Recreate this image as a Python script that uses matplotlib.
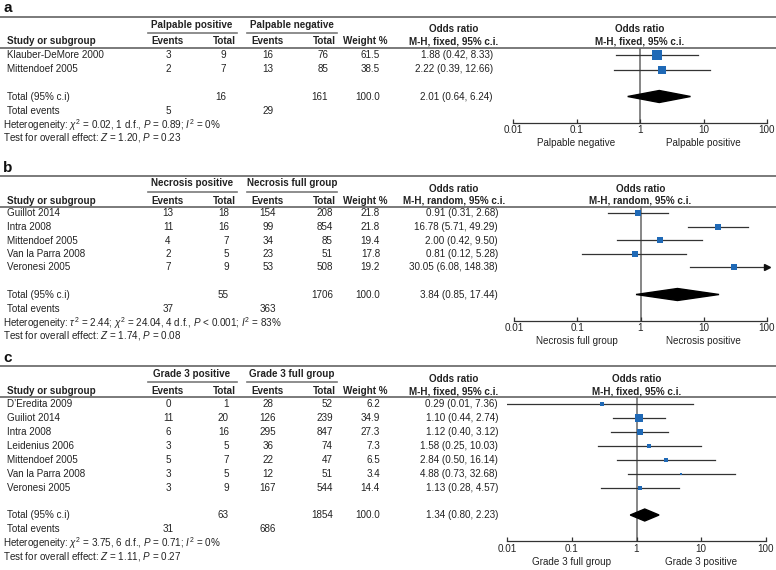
import numpy as np
import matplotlib
matplotlib.use('Agg')
import matplotlib.pyplot as plt

plt.rcParams['font.family'] = ['Liberation Sans', 'DejaVu Sans']
plt.rcParams['mathtext.fontset'] = 'custom'
plt.rcParams['mathtext.rm'] = 'Liberation Sans'
plt.rcParams['mathtext.it'] = 'Liberation Sans:italic'
plt.rcParams['mathtext.bf'] = 'Liberation Sans:bold'

# ---- data ----
a_studies = ['Klauber-DeMore 2000', 'Mittendoef 2005']
a_ev1 = [3, 2]
a_tot1 = [9, 7]
a_ev2 = [16, 13]
a_tot2 = [76, 85]
a_weight = [61.5, 38.5]
a_or = [1.88, 2.22]
a_lo = [0.42, 0.39]
a_hi = [8.33, 12.66]
a_total = [16, 161, 100.0, 2.01, 0.64, 6.24]
a_events = [5, 29]

b_studies = ['Guillot 2014', 'Intra 2008', 'Mittendoef 2005', 'Van la Parra 2008', 'Veronesi 2005']
b_ev1 = [13, 11, 4, 2, 7]
b_tot1 = [18, 16, 7, 5, 9]
b_ev2 = [154, 99, 34, 23, 53]
b_tot2 = [208, 854, 85, 51, 508]
b_weight = [21.8, 21.8, 19.4, 17.8, 19.2]
b_or = [0.91, 16.78, 2.00, 0.81, 30.05]
b_lo = [0.31, 5.71, 0.42, 0.12, 6.08]
b_hi = [2.68, 49.29, 9.50, 5.28, 148.38]
b_total = [55, 1706, 100.0, 3.84, 0.85, 17.44]
b_events = [37, 363]

c_studies = ["D\u2019Eredita 2009", 'Guiliot 2014', 'Intra 2008', 'Leidenius 2006',
             'Mittendoef 2005', 'Van la Parra 2008', 'Veronesi 2005']
c_ev1 = [0, 11, 6, 3, 5, 3, 3]
c_tot1 = [1, 20, 16, 5, 7, 5, 9]
c_ev2 = [28, 126, 295, 36, 22, 12, 167]
c_tot2 = [52, 239, 847, 74, 47, 51, 544]
c_weight = [6.2, 34.9, 27.3, 7.3, 6.5, 3.4, 14.4]
c_or = [0.29, 1.10, 1.12, 1.58, 2.84, 4.88, 1.13]
c_lo = [0.01, 0.44, 0.40, 0.25, 0.50, 0.73, 0.28]
c_hi = [7.36, 2.74, 3.12, 10.03, 16.14, 32.68, 4.57]
c_total = [63, 1854, 100.0, 1.34, 0.80, 2.23]
c_events = [31, 686]

tick_vals = [0.01, 0.1, 1, 10, 100]
tick_labels = ['0.01', '0.1', '1', '10', '100']

W, H = 776, 570
FS = 7.1
BLUE = '#1f69b6'
RULE = '#7a7a7a'
TXT = '#222222'

fig = plt.figure(figsize=(W / 100, H / 100), dpi=100)
main = fig.add_axes([0, 0, 1, 1])
main.set_xlim(0, W)
main.set_ylim(H, 0)
main.axis('off')


def panel(letter, top, groups, method, studies, ev1, tot1, ev2, tot2, weight,
          orv, lo, hi, total, events, het, test, sides, fx0, fx1, tot1_x, tot2_x, or_x, step):
    # layout in pixels relative to panel top rule
    main.text(3, top - 8, letter, fontsize=11, fontweight='bold', va='center', ha='left', color='#111')
    main.plot([0, W], [top, top], color=RULE, lw=1.4)
    gy = top + 8
    main.text(192, gy, groups[0], fontsize=FS, fontweight='bold', ha='center', va='center', color=TXT)
    main.text(292, gy, groups[1], fontsize=FS, fontweight='bold', ha='center', va='center', color=TXT)
    main.plot([148, 237], [top + 16, top + 16], color=RULE, lw=1.2)
    main.plot([247, 337], [top + 16, top + 16], color=RULE, lw=1.2)
    hy = top + 25
    main.text(7, hy, 'Study or subgroup', fontsize=FS, fontweight='bold', va='center', color=TXT)
    main.text(168, hy, 'Events', fontsize=FS, fontweight='bold', ha='center', va='center', color=TXT)
    main.text(236, hy, 'Total', fontsize=FS, fontweight='bold', ha='right', va='center', color=TXT)
    main.text(267, hy, 'Events', fontsize=FS, fontweight='bold', ha='center', va='center', color=TXT)
    main.text(336, hy, 'Total', fontsize=FS, fontweight='bold', ha='right', va='center', color=TXT)
    main.text(365, hy, 'Weight %', fontsize=FS, fontweight='bold', ha='center', va='center', color=TXT)
    for cx in [454, (fx0 + fx1) / 2]:
        main.text(cx, gy + 5, 'Odds ratio', fontsize=FS, fontweight='bold', ha='center', va='center', color=TXT)
        main.text(cx, hy, method, fontsize=FS, fontweight='bold', ha='center', va='center', color=TXT)
    line_y = top + 31
    main.plot([0, W], [line_y, line_y], color=RULE, lw=1.4)

    ys = [line_y + 7 + i * step for i in range(len(studies))]
    for i, y in enumerate(ys):
        main.text(7, y, studies[i], fontsize=FS, va='center', color=TXT)
        main.text(168, y, str(ev1[i]), fontsize=FS, ha='center', va='center', color=TXT)
        main.text(tot1_x, y, str(tot1[i]), fontsize=FS, ha='right', va='center', color=TXT)
        main.text(268, y, str(ev2[i]), fontsize=FS, ha='center', va='center', color=TXT)
        main.text(tot2_x, y, str(tot2[i]), fontsize=FS, ha='right', va='center', color=TXT)
        main.text(380, y, '%.1f' % weight[i], fontsize=FS, ha='right', va='center', color=TXT)
        main.text(or_x, y, '%.2f (%.2f, %.2f)' % (orv[i], lo[i], hi[i]), fontsize=FS,
                  ha='right', va='center', color=TXT)
    ty = ys[-1] + 27
    main.text(7, ty, 'Total (95% c.i)', fontsize=FS, va='center', color=TXT)
    main.text(tot1_x, ty, str(total[0]), fontsize=FS, ha='right', va='center', color=TXT)
    main.text(tot2_x, ty, str(total[1]), fontsize=FS, ha='right', va='center', color=TXT)
    main.text(380, ty, '%.1f' % total[2], fontsize=FS, ha='right', va='center', color=TXT)
    main.text(or_x, ty, '%.2f (%.2f, %.2f)' % (total[3], total[4], total[5]), fontsize=FS,
              ha='right', va='center', color=TXT)
    main.text(7, ty + 14.5, 'Total events', fontsize=FS, va='center', color=TXT)
    main.text(168, ty + 14.5, str(events[0]), fontsize=FS, ha='center', va='center', color=TXT)
    main.text(268, ty + 14.5, str(events[1]), fontsize=FS, ha='center', va='center', color=TXT)
    main.text(3, ty + 28.5, het, fontsize=FS, va='center', color=TXT)
    main.text(3, ty + 41.5, test, fontsize=FS, va='center', color=TXT)

    # forest axes, y in pixel units
    axis_y = ty + 26
    ax = fig.add_axes([fx0 / W, 1 - axis_y / H, (fx1 - fx0) / W, (axis_y - line_y) / H])
    ax.set_xscale('log')
    ax.set_xlim(0.01, 100)
    ax.set_ylim(axis_y, line_y)
    ax.patch.set_alpha(0)
    for s in ['top', 'left', 'right']:
        ax.spines[s].set_visible(False)
    ax.spines['bottom'].set_color('#333')
    ax.spines['bottom'].set_linewidth(0.9)
    ax.set_yticks([])
    ax.set_xticks(tick_vals)
    ax.set_xticklabels(tick_labels)
    ax.minorticks_off()
    ax.tick_params(axis='x', direction='in', length=3, width=0.9, color='#333',
                   labelsize=FS, labelcolor=TXT, pad=2)
    ax.axvline(1, color='#666', lw=1.1, zorder=1)
    for i, y in enumerate(ys):
        if hi[i] > 100:
            ax.plot([lo[i], 100], [y, y], color='#333', lw=0.9, zorder=2)
            ax.plot([100], [y], marker='>', color='#111', ms=5, zorder=3, clip_on=False)
        else:
            ax.plot([lo[i], hi[i]], [y, y], color='#333', lw=0.9, zorder=2)
        ax.plot([orv[i]], [y], marker='s', color=BLUE, ms=sides[i] * 0.72, mew=0, zorder=3)
    dx = [total[4], total[3], total[5], total[3]]
    dy = [ty, ty - 6, ty, ty + 6]
    ax.fill(dx, dy, color='black', zorder=3)
    ax.text(0.1, axis_y + 21, groups[3], fontsize=FS, ha='center', va='center', color=TXT, clip_on=False)
    ax.text(10, axis_y + 21, groups[2], fontsize=FS, ha='center', va='center', color=TXT, clip_on=False)
    return ax


def sizes(w):
    return [1.25 * np.sqrt(x) for x in w]


panel('a', 16.5, ['Palpable positive', 'Palpable negative', 'Palpable positive', 'Palpable negative'],
      'M-H, fixed, 95% c.i.', a_studies, a_ev1, a_tot1, a_ev2, a_tot2, a_weight, a_or, a_lo, a_hi,
      a_total, a_events,
      r'Heterogeneity: $\chi^2$ = 0.02, 1 d.f., $P$ = 0.89; $I^2$ = 0%',
      r'Test for overall effect: $Z$ = 1.20, $P$ = 0.23',
      sizes(a_weight), 513, 767, 226, 328, 493, 15)

panel('b', 175.5, ['Necrosis positive', 'Necrosis full group', 'Necrosis positive', 'Necrosis full group'],
      'M-H, random, 95% c.i.', b_studies, b_ev1, b_tot1, b_ev2, b_tot2, b_weight, b_or, b_lo, b_hi,
      b_total, b_events,
      r'Heterogeneity: $\tau^2$ = 2.44; $\chi^2$ = 24.04, 4 d.f., $P$ < 0.001; $I^2$ = 83%',
      r'Test for overall effect: $Z$ = 1.74, $P$ = 0.08',
      sizes(b_weight), 514, 767, 229, 333, 498, 13.5)

panel('c', 366, ['Grade 3 positive', 'Grade 3 full group', 'Grade 3 positive', 'Grade 3 full group'],
      'M-H, fixed, 95% c.i.', c_studies, c_ev1, c_tot1, c_ev2, c_tot2, c_weight, c_or, c_lo, c_hi,
      c_total, c_events,
      r'Heterogeneity: $\chi^2$ = 3.75, 6 d.f., $P$ = 0.71; $I^2$ = 0%',
      r'Test for overall effect: $Z$ = 1.11, $P$ = 0.27',
      sizes(c_weight), 507, 766, 229, 333, 498, 14)

fig.savefig('out.png', dpi=100)
